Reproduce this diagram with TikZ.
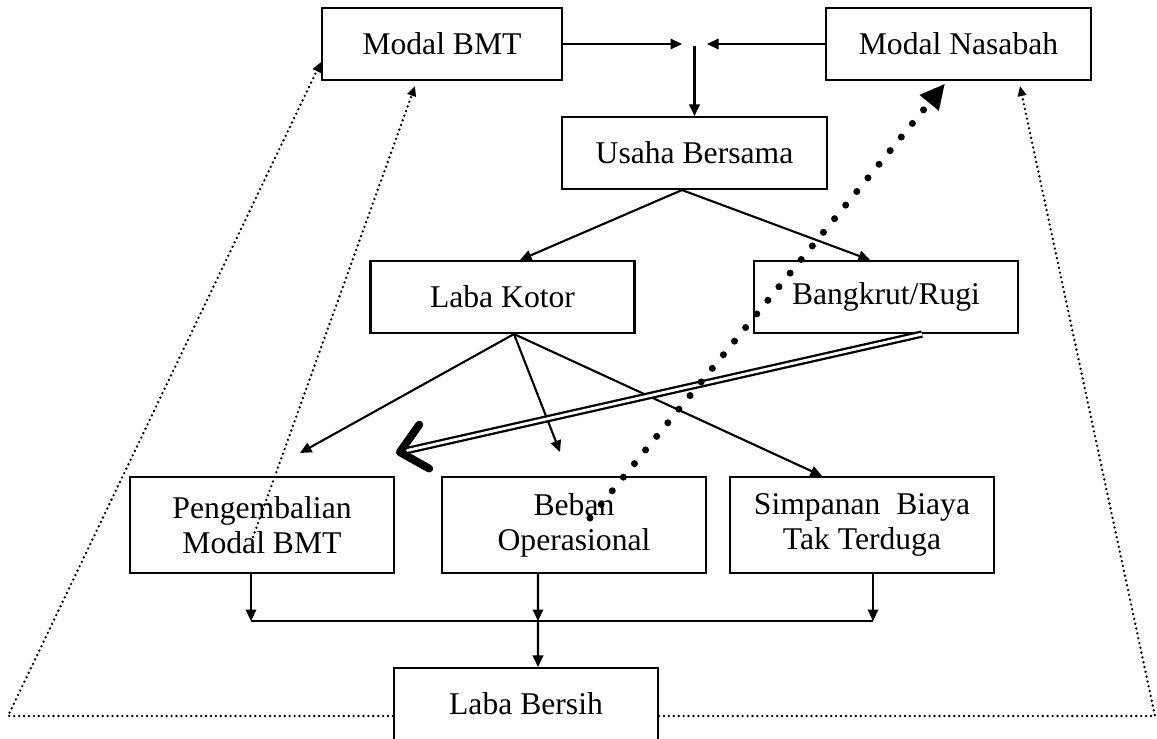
\documentclass[tikz,border=0pt]{standalone}
\usepackage{fontspec}
\setmainfont{Liberation Serif}
\usetikzlibrary{arrows.meta}
\begin{document}
\begin{tikzpicture}[x=0.02cm,y=-0.02cm,line width=1.2pt,
    kotak/.style={draw,minimum width=5.28cm,minimum height=1.44cm,inner sep=0pt,align=center,font=\fontsize{18}{20}\selectfont},
    panah/.style={-{Triangle[length=2.3mm,width=2.1mm]}},
    titik/.style={line width=1.5pt,dash pattern=on 0pt off 2.8pt,line cap=round,-{Triangle[length=2mm,width=1.7mm]}},
    titikbesar/.style={line width=4pt,dash pattern=on 0pt off 10pt,line cap=round,-{Triangle[length=5mm,width=4.6mm]}},
    ganda/.style={double,line width=1.3pt,double distance=1.6pt,-{Straight Barb[length=5mm,width=9mm,line width=4.5pt,round]}}]
  \useasboundingbox (0,0) rectangle (1157,738);
  \node[kotak,minimum width=4.8cm] (modalbmt) at (442,44) {Modal BMT};
  \node[kotak,minimum width=5.3cm] (modalnas) at (958.5,44) {Modal Nasabah};
  \node[kotak,minimum width=5.3cm] (usaha) at (694.5,153) {Usaha Bersama};
  \node[kotak] (kotor) at (502.5,297) {Laba Kotor};
  \node[kotak] (rugi) at (886,297) {Bangkrut/Rugi};
  \node[kotak,minimum height=1.92cm] (kembali) at (262,525) {Pengembalian\\Modal BMT};
  \node[kotak,minimum height=1.92cm] (beban) at (574,525) {Beban\\Operasional};
  \node[kotak,minimum height=1.92cm] (simpanan) at (862,525) {Simpanan~~Biaya\\Tak Terduga};
  \node[kotak] (bersih) at (526,704) {Laba Bersih};

  \coordinate (jkiri) at (682,44);
  \coordinate (jkanan) at (707,44);
  \coordinate (jatas) at (694.5,46);
  \coordinate (ujunga) at (300,453);
  \coordinate (ujungb) at (560,452);
  \coordinate (ujungc) at (396,453);
  \coordinate (gabung) at (538,621);
  \coordinate (dotawal) at (590,518);
  \coordinate (dotkembali) at (253,537);
  \coordinate (sudutkiri) at (8,716);
  \coordinate (sudutkanan) at (1155,716);

  \draw[panah] (modalbmt.east) -- (jkiri);
  \draw[panah] (modalnas.west) -- (jkanan);
  \draw[panah] (jatas) -- (usaha.north);
  \draw[panah] ([xshift=-0.25cm]usaha.south) -- ([xshift=0.35cm]kotor.north);
  \draw[panah] ([xshift=-0.25cm]usaha.south) -- ([xshift=-0.32cm]rugi.north);
  \draw[panah] ([xshift=0.23cm]kotor.south) -- (ujunga);
  \draw[panah] ([xshift=0.23cm]kotor.south) -- (ujungb);
  \draw[panah] ([xshift=0.23cm]kotor.south) -- ([xshift=-0.8cm]simpanan.north);
  \draw[ganda] ([xshift=0.72cm]rugi.south) -- (ujungc);

  \draw[panah] ([xshift=-0.22cm]kembali.south) -- ([xshift=-0.22cm]kembali.south |- gabung);
  \draw[panah] ([xshift=-0.72cm]beban.south) -- (gabung);
  \draw[panah] ([xshift=0.22cm]simpanan.south) -- ([xshift=0.22cm]simpanan.south |- gabung);
  \draw ([xshift=-0.22cm]kembali.south |- gabung) -- ([xshift=0.22cm]simpanan.south |- gabung);
  \draw[panah] (gabung) -- ([xshift=0.24cm]bersih.north);

  \draw[titik] ([yshift=-0.24cm]bersih.west) -- (sudutkiri) -- ([yshift=-0.36cm]modalbmt.west);
  \draw[titik] ([yshift=-0.24cm]bersih.east) -- (sudutkanan) -- ([xshift=1.23cm,yshift=-0.1cm]modalnas.south);
  \draw[titik] (dotkembali) -- ([xshift=-0.54cm,yshift=-0.1cm]modalbmt.south);
  \draw[titikbesar] (dotawal) -- ([xshift=-0.27cm,yshift=-0.05cm]modalnas.south);
\end{tikzpicture}
\end{document}
